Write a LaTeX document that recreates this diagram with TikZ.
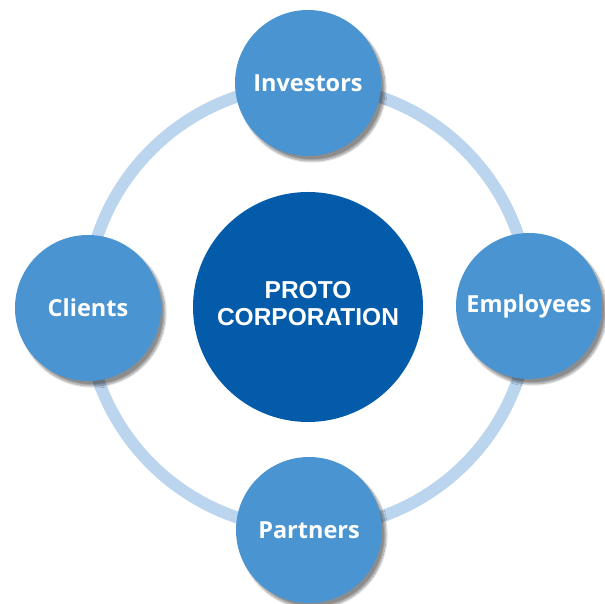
\documentclass[tikz,border=0pt]{standalone}
\usepackage{fontspec}
\setmainfont{Open Sans}
\newfontfamily\corefont{Liberation Sans Bold}
\usepackage{xcolor}
\usepackage{tikz}
\usetikzlibrary{shapes, shadows.blur}

\definecolor{ringblue}{RGB}{187,213,238}
\definecolor{partyblue}{RGB}{74,148,209}
\definecolor{coreblue}{RGB}{3,91,170}

\begin{document}
\begin{tikzpicture}[x=1pt, y=1pt]
            \tikzstyle{party}=[circle, fill=partyblue, minimum size=146pt, inner sep=0pt,
                text=white, font=\fontsize{23.5}{28}\selectfont\bfseries,
                blur shadow={shadow xshift=4pt, shadow yshift=-5pt, shadow blur steps=12, shadow opacity=45}]
            \tikzstyle{core}=[circle, fill=coreblue, minimum size=230pt, inner sep=0pt,
                text=white, font=\corefont\fontsize{24.5}{27}\selectfont]
            \tikzstyle{ring}=[draw=ringblue, line width=12pt]
            \useasboundingbox (0,0) rectangle (605,604);
            \coordinate (hub) at (308,297);
            \draw[ring] (hub) circle (222);
            \node[party] (investors) at (308,521) {Investors};
            \node[party] (clients) at (88,296) {Clients};
            \node[party] (employees) at (529,298) {Employees};
            \node[party] (partners) at (309,74) {Partners};
            \node[core] (proto) at (hub)
                {\raisebox{9pt}{\begin{tabular}{@{}c@{}}PROTO\\CORPORATION\end{tabular}}};
\end{tikzpicture}
\end{document}
